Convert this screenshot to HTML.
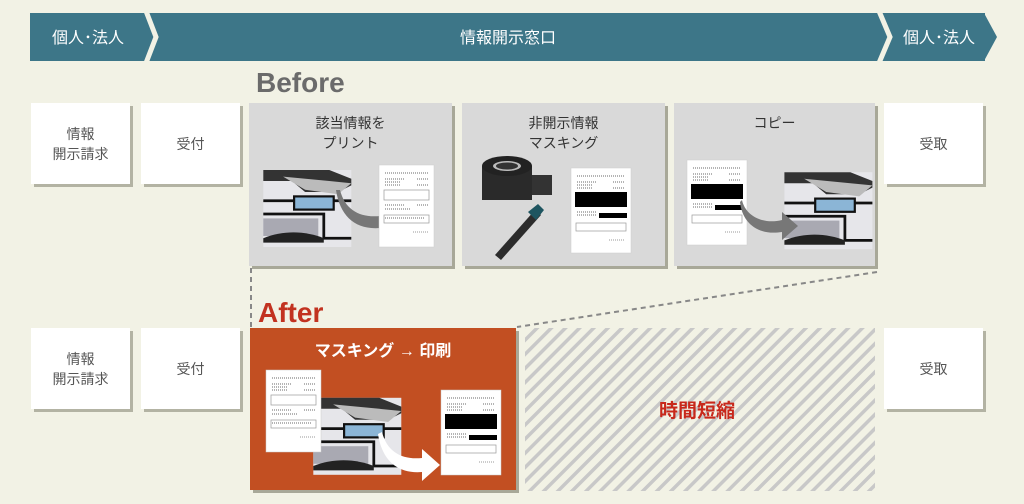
<!DOCTYPE html>
<html><head><meta charset="utf-8"><style>
body{margin:0;width:1024px;height:504px;background:#f2f2e5;position:relative;overflow:hidden;font-family:"Liberation Sans","Noto Sans CJK JP",sans-serif}
.b{position:absolute;background:#fff;box-shadow:3px 3px 0 #b3b3a3;display:flex;align-items:center;justify-content:center;text-align:center;color:#555;font-size:14px;line-height:20px}
.g{position:absolute;background:#d9d9d9;box-shadow:3px 3px 0 #a8a898;color:#333;font-size:14px;line-height:20px;text-align:center}
.g .t{position:absolute;left:0;right:0;top:10px}
svg.a{position:absolute;left:0;top:0}
</style></head><body>
<svg class="a" width="1024" height="504">
<defs>
<pattern id="h" width="10" height="10" patternUnits="userSpaceOnUse" patternTransform="rotate(45)">
<rect width="10" height="10" fill="#f2f2e5"/><rect width="3.5" height="10" fill="#c8c8c8"/></pattern>
<g id="doc"><rect width="55" height="82" fill="#fff" stroke="#ccc" stroke-width=".5"/>
<path d="M6 8h43M6 14h20M38 14h11M6 17h15M6 20h15M38 20h11" stroke="#888" stroke-width="1.2" stroke-dasharray="1 1"/>
<rect x="5" y="25" width="45" height="10" fill="none" stroke="#999" stroke-width=".7"/>
<path d="M6 40h20M38 40h11M6 44h25M6 53h40" stroke="#888" stroke-width="1.2" stroke-dasharray="1 1"/>
<rect x="5" y="50" width="45" height="8" fill="none" stroke="#999" stroke-width=".7"/><path d="M34 67h15" stroke="#999" stroke-dasharray="1 1"/></g>
<g id="mdoc"><rect width="60" height="85" fill="#fff" stroke="#ccc" stroke-width=".5"/>
<path d="M6 8h48M6 14h20M42 14h12M6 17h15M6 20h15M42 20h12" stroke="#888" stroke-width="1.2" stroke-dasharray="1 1"/>
<rect x="4" y="24" width="52" height="15" fill="#000"/>
<path d="M6 44h20M6 47h20" stroke="#888" stroke-width="1.2" stroke-dasharray="1 1"/><rect x="28" y="45" width="28" height="5" fill="#000"/>
<rect x="5" y="55" width="50" height="8" fill="none" stroke="#999" stroke-width=".7"/><path d="M38 72h15" stroke="#999" stroke-dasharray="1 1"/></g>
<g id="pr"><rect x="0" y="0" width="80" height="70" fill="#e6e6ea"/>
<path d="M0 0h60l20 8v6l-12 6h-30l-12-10H0z" fill="#333"/>
<path d="M18 6l42 4 20 2-12 10-30-4z" fill="#bbb"/>
<path d="M0 28h80" stroke="#111" stroke-width="2.5"/>
<rect x="28" y="24" width="36" height="12" fill="#8bb5d6" stroke="#111" stroke-width="2"/>
<path d="M0 40h55v22H80" fill="none" stroke="#111" stroke-width="2.5"/>
<rect x="0" y="44" width="50" height="16" fill="#a9a9b2"/>
<path d="M0 62c20-8 40-6 55 0v4H0z" fill="#222"/></g>
</defs>
<rect x="30" y="13" width="955" height="48" fill="#3d7688"/>
<polygon points="984,13 997,37 984,61" fill="#3d7688"/>
<polyline points="146,11 156,37 146,63" fill="none" stroke="#f2f2e5" stroke-width="5"/>
<polyline points="879,11 890,37 879,63" fill="none" stroke="#f2f2e5" stroke-width="5"/>
<text x="88" y="43" fill="#fff" font-size="16" text-anchor="middle">個人･法人</text>
<text x="508" y="43" fill="#fff" font-size="16" text-anchor="middle">情報開示窓口</text>
<text x="939" y="43" fill="#fff" font-size="16" text-anchor="middle">個人･法人</text>
<text x="256" y="92" fill="#6b6b6b" font-size="28" font-weight="bold">Before</text>
<text x="258" y="322" fill="#c23220" font-size="28" font-weight="bold">After</text>
<path d="M251 268V327M877 272L517 327" stroke="#888" stroke-width="2" stroke-dasharray="5 4" fill="none"/>
<rect x="525" y="328" width="350" height="163" fill="url(#h)"/>
<text x="697" y="417" fill="#c8281b" font-size="19" font-weight="bold" text-anchor="middle">時間短縮</text>
</svg>
<div class="b" style="left:31px;top:103px;width:99px;height:81px">情報<br>開示請求</div>
<div class="b" style="left:141px;top:103px;width:99px;height:81px">受付</div>
<div class="b" style="left:884px;top:103px;width:99px;height:81px">受取</div>
<div class="b" style="left:31px;top:328px;width:99px;height:81px">情報<br>開示請求</div>
<div class="b" style="left:141px;top:328px;width:99px;height:81px">受付</div>
<div class="b" style="left:884px;top:328px;width:99px;height:81px">受取</div>
<div class="g" style="left:249px;top:103px;width:203px;height:163px"><div class="t">該当情報を<br>プリント</div></div>
<div class="g" style="left:462px;top:103px;width:203px;height:163px"><div class="t">非開示情報<br>マスキング</div></div>
<div class="g" style="left:674px;top:103px;width:201px;height:163px"><div class="t">コピー</div></div>
<div class="g" style="left:250px;top:328px;width:266px;height:162px;background:#c24f22;color:#fff;font-weight:bold;font-size:16px"><div class="t" style="top:14px">マスキング → 印刷</div></div>
<svg class="a" width="1024" height="504">
<use href="#pr" x="263" y="170" transform="translate(-26 -17) scale(1.1)"/>
<path d="M340 190c5 20 20 28 40 26v-10l18 16-18 16v-10c-25 2-40-12-44-38z" fill="#777"/>
<use href="#doc" x="379" y="165"/>
<rect x="482" y="166" width="50" height="34" fill="#2a2a2a"/>
<ellipse cx="507" cy="166" rx="25" ry="10" fill="#222"/><ellipse cx="507" cy="166" rx="14" ry="5" fill="#bbb"/><ellipse cx="507" cy="166" rx="11" ry="3.5" fill="#333"/>
<path d="M532 175h20v20h-20z" fill="#333"/>
<path d="M495 255l40-45 6 5-40 45z" fill="#2c2c2c"/><path d="M528 212l10-8 6 6-8 10z" fill="#1e5560"/>
<use href="#mdoc" x="571" y="168"/>
<use href="#mdoc" x="687" y="160"/>
<use href="#pr" x="784" y="172" transform="translate(-78 -17) scale(1.1)"/>
<path d="M742 200c3 15 20 25 40 20v-8l16 14-16 14v-8c-25 4-40-10-42-30z" fill="#777"/>
<use href="#pr" x="313" y="398" transform="translate(-31 -40) scale(1.1)"/>
<use href="#doc" x="266" y="370"/>
<path d="M382 432c5 20 20 28 40 26v-9l18 16-18 16v-9c-25 2-40-12-44-38z" fill="#fff"/>
<use href="#mdoc" x="441" y="390"/>
</svg>
</body></html>
